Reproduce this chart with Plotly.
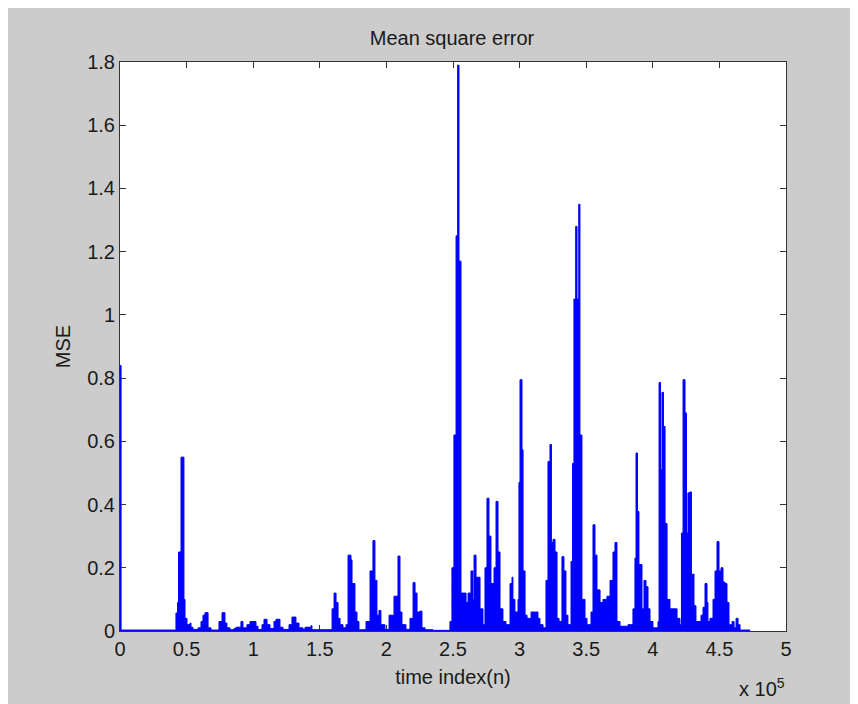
import plotly.graph_objects as go

# time index (n) at which each step of the MSE curve starts
time_index = [
    0, 800, 42000, 43200, 43900, 45800, 48000, 48800, 50300, 52550, 53300, 54800,
    58560, 60800, 62300, 63800, 66100, 68300, 74300, 76600, 78800, 80300, 82600,
    85600, 87100, 90800, 92300, 95300, 97600, 102100, 103600, 106600, 108100,
    110400, 112600, 115600, 117100, 120100, 122400, 126900, 129100, 132100,
    134400, 137400, 138900, 143400, 144100, 159200, 160700, 162200, 163700,
    165200, 167400, 169700, 171200, 173400, 174200, 176400, 177900, 179400,
    184700, 187700, 189900, 191400, 192900, 194400, 195900, 198900, 202000,
    205700, 208700, 210200, 211700, 214700, 217700, 220000, 221500, 223000,
    225200, 226700, 229000, 235000, 247700, 249200, 250700, 252300, 253500,
    254500, 256000, 259800, 261300, 263500, 265000, 265800, 267300, 270300,
    272500, 274000, 275500, 277000, 278500, 280800, 282300, 283800, 285300,
    287500, 289800, 292800, 294300, 295000, 296500, 298800, 299500, 300300,
    301800, 302600, 304100, 305600, 308600, 311600, 313800, 315300, 317600,
    319800, 321300, 322800, 323900, 325100, 326600, 328100, 329600, 331800,
    333300, 334800, 336300, 338600, 339700, 340800, 342100, 343100, 344400,
    345300, 346800, 349100, 350600, 353600, 355100, 356600, 358100, 360400,
    362600, 365600, 367900, 370100, 371600, 373100, 375400, 381400, 385100,
    386600, 387400, 388500, 389600, 391900, 393400, 394900, 396400, 397900,
    400100, 403900, 404700, 405800, 406900, 408000, 409200, 410700, 412900,
    415200, 418200, 420400, 421500, 422700, 424200, 425300, 426400, 427900,
    429000, 429800, 430900, 432400, 436200, 437700, 439200, 440700, 441400,
    442900, 445200, 446700, 448200, 449700, 451200, 452700, 454200, 455700,
    457200, 459500, 461000, 462500, 464000, 465500, 473000,
]

# mean square error level on each step
mse = [
    0.84, 0.003, 0.057, 0.09, 0.25, 0.55, 0.10, 0.04, 0.02, 0.025, 0.012, 0.005,
    0.01, 0.03, 0.05, 0.058, 0.01, 0.003, 0.03, 0.058, 0.025, 0.01, 0.004,
    0.008, 0.012, 0.03, 0.01, 0.02, 0.03, 0.015, 0.005, 0.02, 0.037,
    0.02, 0.008, 0.03, 0.037, 0.012, 0.005, 0.02, 0.044, 0.025,
    0.01, 0.005, 0.012, 0.017, 0.004, 0.07, 0.12, 0.09, 0.04,
    0.02, 0.01, 0.02, 0.24, 0.225, 0.15, 0.06, 0.03, 0.004,
    0.03, 0.19, 0.286, 0.16, 0.05, 0.065, 0.02, 0.005, 0.05,
    0.11, 0.237, 0.06, 0.02, 0.005, 0.04, 0.153, 0.12, 0.06,
    0.063, 0.01, 0.004, 0.002, 0.03, 0.20, 0.62, 1.25, 1.79,
    1.17, 0.12, 0.09, 0.12, 0.19, 0.10, 0.24, 0.17, 0.07,
    0.02, 0.20, 0.42, 0.30, 0.15, 0.20, 0.41, 0.25, 0.07,
    0.03, 0.02, 0.15, 0.17, 0.10, 0.06, 0.10, 0.47, 0.795,
    0.573, 0.19, 0.05, 0.04, 0.06, 0.06, 0.04, 0.02, 0.01,
    0.16, 0.536, 0.59, 0.28, 0.29, 0.25, 0.04, 0.03, 0.235,
    0.19, 0.05, 0.02, 0.22, 0.53, 1.05, 1.28, 1.05, 1.35,
    0.62, 0.10, 0.04, 0.02, 0.06, 0.336, 0.24, 0.13, 0.09,
    0.10, 0.11, 0.16, 0.25, 0.28, 0.03, 0.015, 0.02, 0.07,
    0.23, 0.563, 0.378, 0.21, 0.07, 0.16, 0.14, 0.07, 0.03,
    0.01, 0.03, 0.786, 0.51, 0.755, 0.647, 0.34, 0.10, 0.07,
    0.07, 0.04, 0.02, 0.31, 0.795, 0.69, 0.31, 0.437, 0.44,
    0.08, 0.18, 0.08, 0.03, 0.05, 0.075, 0.15, 0.09, 0.03,
    0.04, 0.10, 0.19, 0.283, 0.19, 0.20, 0.155, 0.15, 0.09,
    0.02, 0.03, 0.01, 0.04, 0.02, 0.003, 0.002,
]

x_tick_vals = [0, 50000, 100000, 150000, 200000, 250000, 300000, 350000, 400000, 450000, 500000]
x_tick_text = ["0", "0.5", "1", "1.5", "2", "2.5", "3", "3.5", "4", "4.5", "5"]
y_tick_vals = [0, 0.2, 0.4, 0.6, 0.8, 1.0, 1.2, 1.4, 1.6, 1.8]
y_tick_text = ["0", "0.2", "0.4", "0.6", "0.8", "1", "1.2", "1.4", "1.6", "1.8"]

FONT = "Liberation Sans, Arial, sans-serif"
TXT = "#1a1a1a"
AX = "#333333"

W, H = 850, 696
ML, MR, MT, MB = 112, 72, 54, 73
PH = H - MT - MB

fig = go.Figure(
    go.Scatter(
        x=time_index,
        y=mse,
        mode="lines",
        line=dict(color="#0000ff", width=1, shape="hv"),
        fill="tozeroy",
        fillcolor="#0000ff",
        hoverinfo="x+y",
    )
)

fig.update_layout(
    width=W,
    height=H,
    margin=dict(l=ML, r=MR, t=MT, b=MB),
    paper_bgcolor="#cccccc",
    plot_bgcolor="#ffffff",
    showlegend=False,
    font=dict(family=FONT, size=20, color=TXT),
    title=dict(
        text="Mean square error",
        x=(444 / W), xanchor="center",
        y=1 - 30 / H, yanchor="middle",
        font=dict(family=FONT, size=20, color=TXT),
    ),
    xaxis=dict(
        range=[0, 500000],
        tickvals=x_tick_vals,
        ticktext=x_tick_text,
        ticks="inside",
        ticklen=6,
        tickwidth=1,
        tickcolor=AX,
        showline=True,
        linecolor=AX,
        linewidth=1,
        mirror="ticks",
        showgrid=False,
        zeroline=False,
        layer="below traces",
        tickfont=dict(family=FONT, size=20, color=TXT),
        title=dict(text="time index(n)", standoff=10,
                   font=dict(family=FONT, size=20, color=TXT)),
    ),
    yaxis=dict(
        range=[0, 1.8],
        tickvals=y_tick_vals,
        ticktext=y_tick_text,
        ticks="inside",
        ticklen=6,
        tickwidth=1,
        tickcolor=AX,
        showline=True,
        linecolor=AX,
        linewidth=1,
        mirror="ticks",
        showgrid=False,
        zeroline=False,
        layer="below traces",
        tickfont=dict(family=FONT, size=20, color=TXT),
        title=dict(text="MSE", standoff=11,
                   font=dict(family=FONT, size=20, color=TXT)),
    ),
    annotations=[
        dict(
            text="x 10<sup>5</sup>",
            xref="paper", yref="paper",
            x=1.002, y=-(694 - (H - MB)) / PH,
            xanchor="right", yanchor="bottom",
            showarrow=False,
            font=dict(family=FONT, size=20, color=TXT),
        )
    ],
)

fig.write_html("out.html")
